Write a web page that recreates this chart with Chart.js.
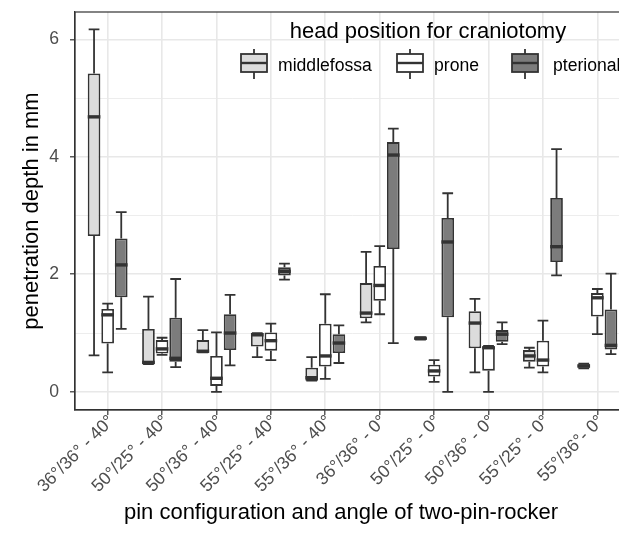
<!DOCTYPE html>
<html><head><meta charset="utf-8">
<script src="https://cdn.jsdelivr.net/npm/chart.js@4.4.1/dist/chart.umd.min.js"></script>
<style>html,body{margin:0;padding:0;overflow:hidden;background:#fff}canvas{display:block}</style>
</head><body>
<canvas id="c" width="640" height="534"></canvas>
<script>
// ---- data ----
const categories = ['36°/36° - 40°','50°/25° - 40°','50°/36° - 40°','55°/25° - 40°','55°/36° - 40°',
                    '36°/36° - 0°','50°/25° - 0°','50°/36° - 0°','55°/25° - 0°','55°/36°- 0°'];
const seriesNames = ['middlefossa','prone','pterional'];
const seriesColors = ['#dcdcdc','#ffffff','#7c7c7c'];
// each entry: [min, q1, median, q3, max]
const middlefossa = [
  [0.62,2.65,4.68,5.42,6.17],[0.47,0.47,0.50,1.07,1.62],[0.67,0.67,0.69,0.88,1.05],
  [0.59,0.77,0.97,1.00,1.00],[0.19,0.19,0.24,0.41,0.59],[1.18,1.25,1.34,1.85,2.38],
  [0.89,0.90,0.91,0.92,0.93],[0.33,0.74,1.17,1.37,1.58],[0.41,0.51,0.61,0.71,0.75],
  [0.40,0.41,0.44,0.47,0.48]];
const prone = [
  [0.33,0.82,1.31,1.41,1.50],[0.63,0.65,0.73,0.88,0.92],[0.00,0.10,0.23,0.61,1.01],
  [0.54,0.70,0.87,1.01,1.16],[0.22,0.43,0.61,1.16,1.66],[1.32,1.55,1.81,2.14,2.48],
  [0.17,0.26,0.355,0.46,0.54],[0.00,0.36,0.75,0.77,0.78],[0.33,0.43,0.54,0.87,1.21],
  [0.98,1.28,1.60,1.68,1.75]];
const pterional = [
  [1.07,1.61,2.16,2.61,3.06],[0.42,0.51,0.57,1.26,1.92],[0.45,0.71,1.00,1.32,1.65],
  [1.91,1.98,2.05,2.12,2.18],[0.49,0.66,0.83,0.98,1.13],[0.83,2.43,4.03,4.25,4.48],
  [0.00,1.27,2.55,2.96,3.38],[0.81,0.85,0.98,1.05,1.18],[1.98,2.21,2.47,3.30,4.13],
  [0.64,0.72,0.79,1.40,2.01]];
const yTickValues = [0,1,2,3,4,5,6];
const yTickLabels = ['0','','2','','4','','6'];
const legendTitle = 'head position for craniotomy';
const xTitle = 'pin configuration and angle of two-pin-rocker';
const yTitle = 'penetration depth in mm';

const seriesStats = [middlefossa, prone, pterional];
const FONT = '"Liberation Sans", Arial, Helvetica, sans-serif';
const INK = '#333333';
const LW = 1.8;

const datasets = seriesNames.map((name, s) => ({
  label: name,
  data: seriesStats[s].map((st, i) => ({x: i, y: [st[1], st[3]]})),
  backgroundColor: seriesColors[s],
  borderColor: INK,
  borderWidth: LW,
  borderSkipped: false,
  categoryPercentage: 0.75,
  barPercentage: 0.93
}));

function drawKey(ctx, left, fill) {
  const w = 26, cx = left + w/2;
  ctx.save();
  ctx.strokeStyle = INK; ctx.lineWidth = LW;
  ctx.beginPath(); ctx.moveTo(cx, 49); ctx.lineTo(cx, 79); ctx.stroke();
  ctx.fillStyle = fill;
  ctx.fillRect(left, 54, w, 18);
  ctx.strokeRect(left, 54, w, 18);
  ctx.lineWidth = 2.4;
  ctx.beginPath(); ctx.moveTo(left, 63); ctx.lineTo(left + w, 63); ctx.stroke();
  ctx.restore();
}

const boxPlugin = {
  id: 'boxplot',
  beforeDatasetsDraw(chart) {
    const ctx = chart.ctx, y = chart.scales.y;
    ctx.save();
    ctx.strokeStyle = INK; ctx.lineWidth = LW; ctx.lineCap = 'butt';
    chart.data.datasets.forEach((ds, s) => {
      const meta = chart.getDatasetMeta(s);
      meta.data.forEach((el, i) => {
        const st = seriesStats[s][i];
        const x = el.x, cw = el.width * 0.85;
        const pMin = y.getPixelForValue(st[0]), pQ1 = y.getPixelForValue(st[1]);
        const pQ3 = y.getPixelForValue(st[3]), pMax = y.getPixelForValue(st[4]);
        ctx.beginPath();
        ctx.moveTo(x, pQ3); ctx.lineTo(x, pMax);
        ctx.moveTo(x, pQ1); ctx.lineTo(x, pMin);
        ctx.moveTo(x - cw/2, pMax); ctx.lineTo(x + cw/2, pMax);
        ctx.moveTo(x - cw/2, pMin); ctx.lineTo(x + cw/2, pMin);
        ctx.stroke();
      });
    });
    ctx.restore();
  },
  afterDatasetsDraw(chart) {
    const ctx = chart.ctx, y = chart.scales.y;
    ctx.save();
    ctx.strokeStyle = INK; ctx.lineWidth = 3.4; ctx.lineCap = 'butt';
    chart.data.datasets.forEach((ds, s) => {
      const meta = chart.getDatasetMeta(s);
      meta.data.forEach((el, i) => {
        const st = seriesStats[s][i];
        const pMed = y.getPixelForValue(st[2]);
        ctx.beginPath();
        ctx.moveTo(el.x - el.width/2, pMed); ctx.lineTo(el.x + el.width/2, pMed);
        ctx.stroke();
      });
    });
    ctx.restore();
  },
  afterDraw(chart) {
    const ctx = chart.ctx, a = chart.chartArea;
    ctx.save();
    // panel border
    ctx.strokeStyle = INK; ctx.lineWidth = 1.2;
    ctx.strokeRect(a.left, a.top, a.right - a.left, a.bottom - a.top);
    // legend
    ctx.fillStyle = '#000';
    ctx.font = '22px ' + FONT;
    ctx.textAlign = 'center'; ctx.textBaseline = 'alphabetic';
    ctx.fillText(legendTitle, 428, 38);
    const keyLefts = [241, 397, 512];
    const textLefts = [278, 434, 553];
    ctx.font = '17.6px ' + FONT;
    ctx.textAlign = 'left';
    seriesNames.forEach((n, s) => {
      drawKey(ctx, keyLefts[s], seriesColors[s]);
      ctx.fillStyle = '#000';
      ctx.fillText(n, textLefts[s], 71);
    });
    // axis titles
    ctx.font = '22px ' + FONT;
    ctx.textAlign = 'center';
    ctx.fillText(xTitle, 341, 519);
    ctx.translate(38, (a.top + a.bottom) / 2);
    ctx.rotate(-Math.PI / 2);
    ctx.fillText(yTitle, 0, 0);
    ctx.restore();
  }
};

new Chart(document.getElementById('c'), {
  type: 'bar',
  data: { datasets },
  plugins: [boxPlugin],
  options: {
    responsive: false,
    animation: false,
    layout: { padding: { left: 0, top: 12, right: 10, bottom: 0 } },
    plugins: { legend: { display: false }, tooltip: { enabled: false } },
    scales: {
      x: {
        type: 'linear', min: -0.6, max: 9.6, offset: false,
        afterBuildTicks: (sc) => { sc.ticks = categories.map((c, i) => ({ value: i })); },
        afterFit: (sc) => { sc.height = 124; sc.paddingTop = 0; sc.paddingBottom = 0; },
        grid: { offset: false, color: '#e8e8e8', lineWidth: 1.6, tickColor: INK, tickLength: 5, tickWidth: 1.2 },
        border: { display: true, color: INK, width: 1.2 },
        ticks: {
          autoSkip: false, minRotation: 45, maxRotation: 45, padding: -4, labelOffset: 4,
          color: '#4d4d4d', font: { family: FONT, size: 17.6 },
          callback: (v) => categories[v]
        }
      },
      y: {
        min: -0.31, max: 6.465,
        afterBuildTicks: (sc) => { sc.ticks = yTickValues.map(v => ({ value: v })); },
        afterFit: (sc) => { sc.width = 75; sc.paddingTop = 0; sc.paddingBottom = 0; },
        grid: {
          color: '#e8e8e8',
          lineWidth: (c) => (c.tick && c.tick.value % 2 === 0) ? 1.6 : 0.8,
          tickColor: (c) => (c.tick && c.tick.value % 2 === 0) ? INK : 'rgba(0,0,0,0)',
          tickLength: 5, tickWidth: 1.2
        },
        border: { display: true, color: INK, width: 1.2 },
        ticks: {
          padding: 11, color: '#4d4d4d', font: { family: FONT, size: 17.6 },
          callback: (v) => yTickLabels[yTickValues.indexOf(v)]
        }
      }
    }
  }
});
</script>
</body></html>
